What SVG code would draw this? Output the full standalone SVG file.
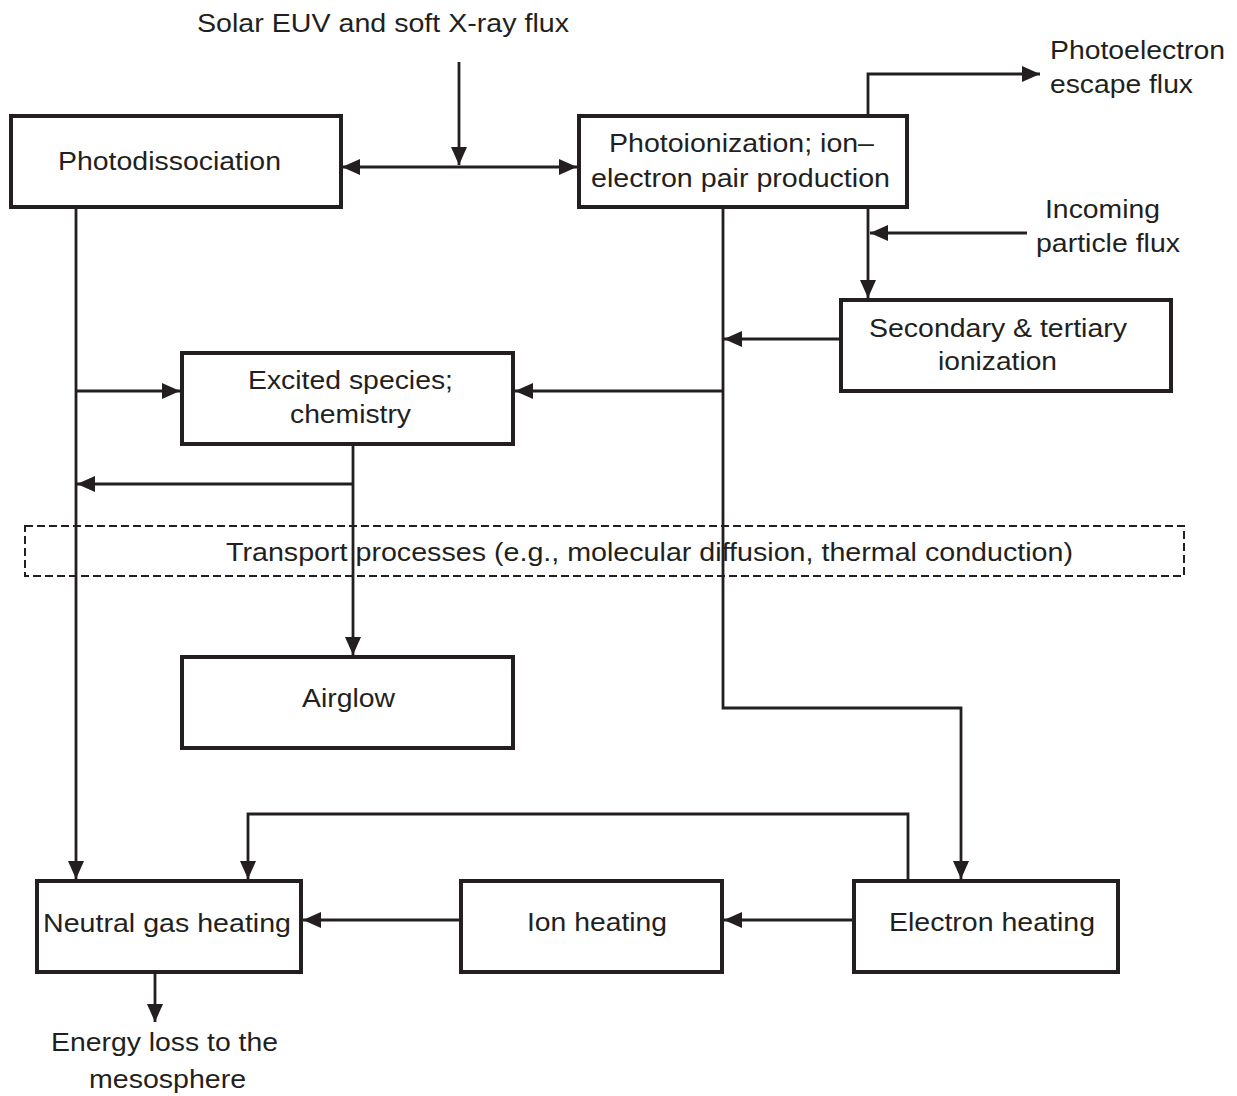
<svg xmlns="http://www.w3.org/2000/svg" width="1237" height="1096" viewBox="0 0 1237 1096">
<style>
.box{fill:#fff;stroke:#231f20;stroke-width:4}
.c{fill:none;stroke:#231f20;stroke-width:2.8}
.dash{fill:none;stroke:#231f20;stroke-width:2;stroke-dasharray:8 4}
text{font-family:"Liberation Sans",Arial,sans-serif;font-size:26px;fill:#231f20;text-anchor:middle}
</style>
<defs>
<marker id="ah" markerUnits="userSpaceOnUse" markerWidth="20" markerHeight="18" refX="18" refY="8" orient="auto">
<path d="M0,0 L18,8 L0,16 Z" fill="#231f20"/>
</marker>
</defs>
<rect width="1237" height="1096" fill="#fff"/>

<g id="transport">
<rect class="dash" x="25" y="526" width="1159" height="50"/>
<text x="649.5" y="561" textLength="847" lengthAdjust="spacingAndGlyphs">Transport processes (e.g., molecular diffusion, thermal conduction)</text>
</g>

<g id="solar"><text x="383" y="32" textLength="372" lengthAdjust="spacingAndGlyphs">Solar EUV and soft X-ray flux</text></g>
<g id="photodissociation">
<rect class="box" x="11" y="116" width="330" height="91"/>
<text x="169.5" y="170" textLength="223" lengthAdjust="spacingAndGlyphs">Photodissociation</text>
</g>
<g id="photoionization">
<rect class="box" x="579" y="116" width="328" height="91"/>
<text x="741.5" y="152" textLength="265" lengthAdjust="spacingAndGlyphs">Photoionization; ion–</text>
<text x="740.5" y="187" textLength="299" lengthAdjust="spacingAndGlyphs">electron pair production</text>
</g>
<g id="escape">
<text x="1137.5" y="59" textLength="175" lengthAdjust="spacingAndGlyphs">Photoelectron</text>
<text x="1121.5" y="93" textLength="143" lengthAdjust="spacingAndGlyphs">escape flux</text>
</g>
<g id="incoming">
<text x="1102.5" y="218" textLength="115" lengthAdjust="spacingAndGlyphs">Incoming</text>
<text x="1108" y="252" textLength="144" lengthAdjust="spacingAndGlyphs">particle flux</text>
</g>
<g id="secondary">
<rect class="box" x="841" y="300" width="330" height="91"/>
<text x="998" y="337" textLength="258" lengthAdjust="spacingAndGlyphs">Secondary &amp; tertiary</text>
<text x="997.5" y="370" textLength="119" lengthAdjust="spacingAndGlyphs">ionization</text>
</g>
<g id="excited">
<rect class="box" x="182" y="353" width="331" height="91"/>
<text x="350.5" y="389" textLength="205" lengthAdjust="spacingAndGlyphs">Excited species;</text>
<text x="350.5" y="423" textLength="121" lengthAdjust="spacingAndGlyphs">chemistry</text>
</g>
<g id="airglow">
<rect class="box" x="182" y="657" width="331" height="91"/>
<text x="348.5" y="707" textLength="93" lengthAdjust="spacingAndGlyphs">Airglow</text>
</g>
<g id="neutral">
<rect class="box" x="37" y="881" width="264" height="91"/>
<text x="167" y="932" textLength="248" lengthAdjust="spacingAndGlyphs">Neutral gas heating</text>
</g>
<g id="ion">
<rect class="box" x="461" y="881" width="261" height="91"/>
<text x="597" y="931" textLength="140" lengthAdjust="spacingAndGlyphs">Ion heating</text>
</g>
<g id="electron">
<rect class="box" x="854" y="881" width="264" height="91"/>
<text x="992" y="931" textLength="206" lengthAdjust="spacingAndGlyphs">Electron heating</text>
</g>
<g id="energy">
<text x="164.5" y="1051" textLength="227" lengthAdjust="spacingAndGlyphs">Energy loss to the</text>
<text x="167.5" y="1088" textLength="157" lengthAdjust="spacingAndGlyphs">mesosphere</text>
</g>

<g id="connectors">
<line class="c" x1="459" y1="62" x2="459" y2="165" marker-end="url(#ah)"/>
<line class="c" x1="459" y1="167" x2="342" y2="167" marker-end="url(#ah)"/>
<line class="c" x1="459" y1="167" x2="577" y2="167" marker-end="url(#ah)"/>
<polyline class="c" points="868,116 868,74 1040,74" marker-end="url(#ah)"/>
<line class="c" x1="868" y1="207" x2="868" y2="298" marker-end="url(#ah)"/>
<line class="c" x1="1027" y1="233" x2="870" y2="233" marker-end="url(#ah)"/>
<polyline class="c" points="723,207 723,708 961,708 961,879" marker-end="url(#ah)"/>
<line class="c" x1="841" y1="339" x2="724" y2="339" marker-end="url(#ah)"/>
<line class="c" x1="723" y1="391" x2="515" y2="391" marker-end="url(#ah)"/>
<line class="c" x1="76" y1="207" x2="76" y2="879" marker-end="url(#ah)"/>
<line class="c" x1="76" y1="391" x2="180" y2="391" marker-end="url(#ah)"/>
<line class="c" x1="353" y1="444" x2="353" y2="655" marker-end="url(#ah)"/>
<line class="c" x1="353" y1="484" x2="77" y2="484" marker-end="url(#ah)"/>
<polyline class="c" points="908,881 908,814 248,814 248,879" marker-end="url(#ah)"/>
<line class="c" x1="854" y1="920" x2="724" y2="920" marker-end="url(#ah)"/>
<line class="c" x1="461" y1="920" x2="303" y2="920" marker-end="url(#ah)"/>
<line class="c" x1="155" y1="972" x2="155" y2="1022" marker-end="url(#ah)"/>
</g>
</svg>
